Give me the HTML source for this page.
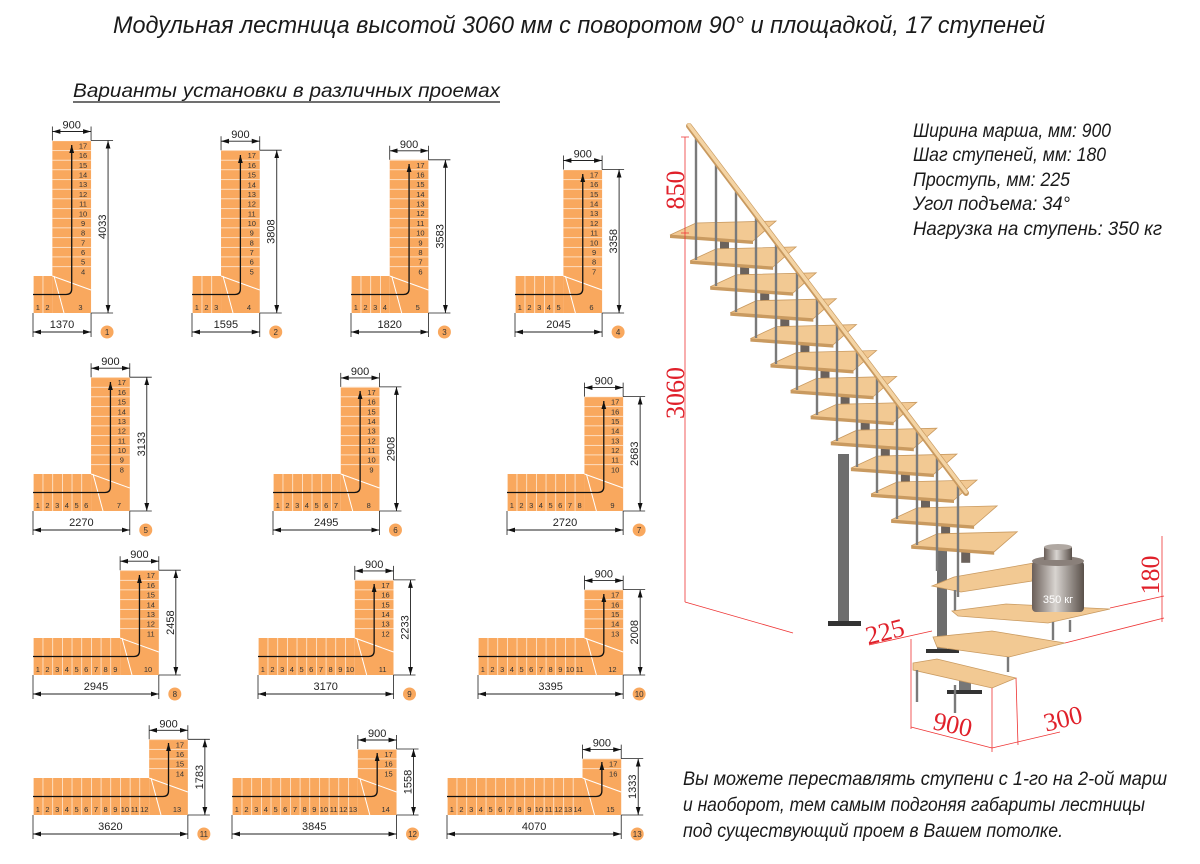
<!DOCTYPE html>
<html><head><meta charset="utf-8"><style>
html,body{margin:0;padding:0;background:#fff}
svg{display:block}
.o{fill:#f9a85e}
.w{stroke:#fff;stroke-width:1;fill:none}
.ar{stroke:#111;stroke-width:1.3;fill:none}
.d{stroke:#222;stroke-width:0.8;fill:none}
.dl{stroke:#222;stroke-width:0.9}
.n{font-family:"Liberation Sans",sans-serif;font-size:7.5px;fill:#333;text-anchor:middle}
.t{font-family:"Liberation Sans",sans-serif;font-size:11px;fill:#222;text-anchor:middle}
.b{fill:#f9a85e}
.bt{font-family:"Liberation Sans",sans-serif;font-size:8px;fill:#333;text-anchor:middle}
.tr{fill:#f2c993;stroke:#c99a60;stroke-width:0.8}
.te{fill:#c99a60}
.bl{stroke:#7a7a7a;stroke-width:2.4}
.r{stroke:#e33;stroke-width:0.8;fill:none}
.rt{font-family:"Liberation Serif",serif;fill:#e0202a;font-size:26px}
.it{font-family:"Liberation Sans",sans-serif;font-style:italic;fill:#1a1a1a}
</style></head><body>
<svg width="1200" height="864" viewBox="0 0 1200 864" xmlns="http://www.w3.org/2000/svg">
<defs>
<marker id="m" viewBox="0 0 10 6" refX="10" refY="3" markerWidth="8" markerHeight="5" markerUnits="userSpaceOnUse" orient="auto-start-reverse"><path d="M0 0L10 3L0 6z" fill="#111"/></marker>
<pattern id="pv" patternUnits="userSpaceOnUse" x="0" y="0" width="9.68" height="50"><line x1="0" y1="0" x2="0" y2="50" stroke="#fff" stroke-width="1.2"/></pattern>
<pattern id="ph" patternUnits="userSpaceOnUse" x="0" y="-37" width="50" height="9.68"><line x1="0" y1="0" x2="50" y2="0" stroke="#fff" stroke-width="1.2"/></pattern>
<linearGradient id="cyl" x1="0" x2="1" y1="0" y2="0"><stop offset="0" stop-color="#6a5e58"/><stop offset="0.45" stop-color="#d8d4d0"/><stop offset="1" stop-color="#5a504a"/></linearGradient>
</defs>

<text class="it" x="113" y="33" font-size="24" textLength="932" lengthAdjust="spacingAndGlyphs">Модульная лестница высотой 3060 мм с поворотом 90° и площадкой, 17 ступеней</text>
<text class="it" x="73" y="97" font-size="19" textLength="427" lengthAdjust="spacingAndGlyphs">Варианты установки в различных проемах</text>
<line x1="73" y1="102" x2="500" y2="102" stroke="#1a1a1a" stroke-width="1.2"/>

<!-- diagram 1 -->
<g transform="translate(33,313)">
<rect x="0" y="-37" width="58.06" height="37" class="o"/><rect x="19.36" y="-172.5" width="38.7" height="135.5" class="o"/>
<rect x="0" y="-37" width="19.36" height="37" fill="url(#pv)"/><rect x="19.36" y="-172.5" width="38.7" height="135.5" fill="url(#ph)"/>
<path class="w" d="M19.36 -37 l38.7 14 M21 -37 l10 37"/>
<path class="ar" marker-start="url(#m)" d="M38.71 -168 V-24 Q38.71 -18.5 33 -18.5 H0"/>
<text class="n" y="-3"><tspan x="4.84">1</tspan><tspan x="14.52">2</tspan><tspan x="47.4">3</tspan></text>
<text class="n" x="50.06" y="-164.5"><tspan>17</tspan><tspan x="50.06" dy="9.68">16</tspan><tspan x="50.06" dy="9.68">15</tspan><tspan x="50.06" dy="9.68">14</tspan><tspan x="50.06" dy="9.68">13</tspan><tspan x="50.06" dy="9.68">12</tspan><tspan x="50.06" dy="9.68">11</tspan><tspan x="50.06" dy="9.68">10</tspan><tspan x="50.06" dy="9.68">9</tspan><tspan x="50.06" dy="9.68">8</tspan><tspan x="50.06" dy="9.68">7</tspan><tspan x="50.06" dy="9.68">6</tspan><tspan x="50.06" dy="9.68">5</tspan><tspan x="50.06" dy="9.68">4</tspan></text>
<path class="d" d="M19.36 -172.5 v-14 M58.06 -172.5 v-14 M58.06 -172.5 h22 M58.06 0 h22 M0 0 v24 M58.06 0 v24"/>
<line class="dl" marker-start="url(#m)" marker-end="url(#m)" x1="19.36" y1="-181.5" x2="58.06" y2="-181.5"/>
<line class="dl" marker-start="url(#m)" marker-end="url(#m)" x1="75.06" y1="-172.5" x2="75.06" y2="0"/>
<line class="dl" marker-start="url(#m)" marker-end="url(#m)" x1="0" y1="19" x2="58.06" y2="19"/>
<text class="t" x="38.71" y="-184.5">900</text><text class="t" x="29" y="15">1370</text>
<text class="t" transform="translate(73.06,-86.25) rotate(-90)">4033</text>
<circle class="b" cx="74.06" cy="19" r="6.5"/><text class="bt" x="74.06" y="22">1</text>
</g>

<!-- diagram 2 -->
<g transform="translate(192,313)">
<rect x="0" y="-37" width="67.74" height="37" class="o"/><rect x="29.04" y="-162.8" width="38.7" height="125.8" class="o"/>
<rect x="0" y="-37" width="29.04" height="37" fill="url(#pv)"/><rect x="29.04" y="-162.8" width="38.7" height="125.8" fill="url(#ph)"/>
<path class="w" d="M29.04 -37 l38.7 14 M31 -37 l10 37"/>
<path class="ar" marker-start="url(#m)" d="M48.39 -158 V-24 Q48.39 -18.5 43 -18.5 H0"/>
<text class="n" y="-3"><tspan x="4.84">1</tspan><tspan x="14.52">2</tspan><tspan x="24.2">3</tspan><tspan x="57">4</tspan></text>
<text class="n" x="59.74" y="-154.8"><tspan>17</tspan><tspan x="59.74" dy="9.68">16</tspan><tspan x="59.74" dy="9.68">15</tspan><tspan x="59.74" dy="9.68">14</tspan><tspan x="59.74" dy="9.68">13</tspan><tspan x="59.74" dy="9.68">12</tspan><tspan x="59.74" dy="9.68">11</tspan><tspan x="59.74" dy="9.68">10</tspan><tspan x="59.74" dy="9.68">9</tspan><tspan x="59.74" dy="9.68">8</tspan><tspan x="59.74" dy="9.68">7</tspan><tspan x="59.74" dy="9.68">6</tspan><tspan x="59.74" dy="9.68">5</tspan></text>
<path class="d" d="M29.04 -162.8 v-14 M67.74 -162.8 v-14 M67.74 -162.8 h22 M67.74 0 h22 M0 0 v24 M67.74 0 v24"/>
<line class="dl" marker-start="url(#m)" marker-end="url(#m)" x1="29.04" y1="-171.8" x2="67.74" y2="-171.8"/>
<line class="dl" marker-start="url(#m)" marker-end="url(#m)" x1="84.74" y1="-162.8" x2="84.74" y2="0"/>
<line class="dl" marker-start="url(#m)" marker-end="url(#m)" x1="0" y1="19" x2="67.74" y2="19"/>
<text class="t" x="48.39" y="-174.8">900</text><text class="t" x="33.9" y="15">1595</text>
<text class="t" transform="translate(82.74,-81.4) rotate(-90)">3808</text>
<circle class="b" cx="83.74" cy="19" r="6.5"/><text class="bt" x="83.74" y="22">2</text>
</g>

<!-- diagram 3 -->
<g transform="translate(351,313)">
<rect x="0" y="-37" width="77.42" height="37" class="o"/><rect x="38.72" y="-153.2" width="38.7" height="116.2" class="o"/>
<rect x="0" y="-37" width="38.72" height="37" fill="url(#pv)"/><rect x="38.72" y="-153.2" width="38.7" height="116.2" fill="url(#ph)"/>
<path class="w" d="M38.72 -37 l38.7 14 M40.7 -37 l10 37"/>
<path class="ar" marker-start="url(#m)" d="M58.07 -149 V-24 Q58.07 -18.5 52.5 -18.5 H0"/>
<text class="n" y="-3"><tspan x="4.84">1</tspan><tspan x="14.52">2</tspan><tspan x="24.2">3</tspan><tspan x="33.88">4</tspan><tspan x="66.7">5</tspan></text>
<text class="n" x="69.42" y="-145.2"><tspan>17</tspan><tspan x="69.42" dy="9.68">16</tspan><tspan x="69.42" dy="9.68">15</tspan><tspan x="69.42" dy="9.68">14</tspan><tspan x="69.42" dy="9.68">13</tspan><tspan x="69.42" dy="9.68">12</tspan><tspan x="69.42" dy="9.68">11</tspan><tspan x="69.42" dy="9.68">10</tspan><tspan x="69.42" dy="9.68">9</tspan><tspan x="69.42" dy="9.68">8</tspan><tspan x="69.42" dy="9.68">7</tspan><tspan x="69.42" dy="9.68">6</tspan></text>
<path class="d" d="M38.72 -153.2 v-14 M77.42 -153.2 v-14 M77.42 -153.2 h22 M77.42 0 h22 M0 0 v24 M77.42 0 v24"/>
<line class="dl" marker-start="url(#m)" marker-end="url(#m)" x1="38.72" y1="-162.2" x2="77.42" y2="-162.2"/>
<line class="dl" marker-start="url(#m)" marker-end="url(#m)" x1="94.42" y1="-153.2" x2="94.42" y2="0"/>
<line class="dl" marker-start="url(#m)" marker-end="url(#m)" x1="0" y1="19" x2="77.42" y2="19"/>
<text class="t" x="58.07" y="-165.2">900</text><text class="t" x="38.7" y="15">1820</text>
<text class="t" transform="translate(92.42,-76.6) rotate(-90)">3583</text>
<circle class="b" cx="93.42" cy="19" r="6.5"/><text class="bt" x="93.42" y="22">3</text>
</g>

<!-- diagram 4 -->
<g transform="translate(515,313)">
<rect x="0" y="-37" width="87.1" height="37" class="o"/><rect x="48.4" y="-143.5" width="38.7" height="106.5" class="o"/>
<rect x="0" y="-37" width="48.4" height="37" fill="url(#pv)"/><rect x="48.4" y="-143.5" width="38.7" height="106.5" fill="url(#ph)"/>
<path class="w" d="M48.4 -37 l38.7 14 M50.4 -37 l10 37"/>
<path class="ar" marker-start="url(#m)" d="M67.75 -139 V-24 Q67.75 -18.5 62 -18.5 H0"/>
<text class="n" y="-3"><tspan x="4.84">1</tspan><tspan x="14.52">2</tspan><tspan x="24.2">3</tspan><tspan x="33.88">4</tspan><tspan x="43.56">5</tspan><tspan x="76.4">6</tspan></text>
<text class="n" x="79.1" y="-135.5"><tspan>17</tspan><tspan x="79.1" dy="9.68">16</tspan><tspan x="79.1" dy="9.68">15</tspan><tspan x="79.1" dy="9.68">14</tspan><tspan x="79.1" dy="9.68">13</tspan><tspan x="79.1" dy="9.68">12</tspan><tspan x="79.1" dy="9.68">11</tspan><tspan x="79.1" dy="9.68">10</tspan><tspan x="79.1" dy="9.68">9</tspan><tspan x="79.1" dy="9.68">8</tspan><tspan x="79.1" dy="9.68">7</tspan></text>
<path class="d" d="M48.4 -143.5 v-14 M87.1 -143.5 v-14 M87.1 -143.5 h22 M87.1 0 h22 M0 0 v24 M87.1 0 v24"/>
<line class="dl" marker-start="url(#m)" marker-end="url(#m)" x1="48.4" y1="-152.5" x2="87.1" y2="-152.5"/>
<line class="dl" marker-start="url(#m)" marker-end="url(#m)" x1="104.1" y1="-143.5" x2="104.1" y2="0"/>
<line class="dl" marker-start="url(#m)" marker-end="url(#m)" x1="0" y1="19" x2="87.1" y2="19"/>
<text class="t" x="67.75" y="-155.5">900</text><text class="t" x="43.5" y="15">2045</text>
<text class="t" transform="translate(102.1,-71.75) rotate(-90)">3358</text>
<circle class="b" cx="103.1" cy="19" r="6.5"/><text class="bt" x="103.1" y="22">4</text>
</g>

<!-- diagram 5 -->
<g transform="translate(33,511)">
<rect x="0" y="-37" width="96.78" height="37" class="o"/><rect x="58.08" y="-133.8" width="38.7" height="96.8" class="o"/>
<rect x="0" y="-37" width="58.08" height="37" fill="url(#pv)"/><rect x="58.08" y="-133.8" width="38.7" height="96.8" fill="url(#ph)"/>
<path class="w" d="M58.08 -37 l38.7 14 M60 -37 l10 37"/>
<path class="ar" marker-start="url(#m)" d="M77.43 -129 V-24 Q77.43 -18.5 72 -18.5 H0"/>
<text class="n" y="-3"><tspan x="4.84">1</tspan><tspan x="14.52">2</tspan><tspan x="24.2">3</tspan><tspan x="33.88">4</tspan><tspan x="43.56">5</tspan><tspan x="53.24">6</tspan><tspan x="86">7</tspan></text>
<text class="n" x="88.78" y="-125.8"><tspan>17</tspan><tspan x="88.78" dy="9.68">16</tspan><tspan x="88.78" dy="9.68">15</tspan><tspan x="88.78" dy="9.68">14</tspan><tspan x="88.78" dy="9.68">13</tspan><tspan x="88.78" dy="9.68">12</tspan><tspan x="88.78" dy="9.68">11</tspan><tspan x="88.78" dy="9.68">10</tspan><tspan x="88.78" dy="9.68">9</tspan><tspan x="88.78" dy="9.68">8</tspan></text>
<path class="d" d="M58.08 -133.8 v-14 M96.78 -133.8 v-14 M96.78 -133.8 h22 M96.78 0 h22 M0 0 v24 M96.78 0 v24"/>
<line class="dl" marker-start="url(#m)" marker-end="url(#m)" x1="58.08" y1="-142.8" x2="96.78" y2="-142.8"/>
<line class="dl" marker-start="url(#m)" marker-end="url(#m)" x1="113.78" y1="-133.8" x2="113.78" y2="0"/>
<line class="dl" marker-start="url(#m)" marker-end="url(#m)" x1="0" y1="19" x2="96.78" y2="19"/>
<text class="t" x="77.43" y="-145.8">900</text><text class="t" x="48.4" y="15">2270</text>
<text class="t" transform="translate(111.78,-66.9) rotate(-90)">3133</text>
<circle class="b" cx="112.78" cy="19" r="6.5"/><text class="bt" x="112.78" y="22">5</text>
</g>

<!-- diagram 6 -->
<g transform="translate(273,511)">
<rect x="0" y="-37" width="106.46" height="37" class="o"/><rect x="67.76" y="-124.1" width="38.7" height="87.1" class="o"/>
<rect x="0" y="-37" width="67.76" height="37" fill="url(#pv)"/><rect x="67.76" y="-124.1" width="38.7" height="87.1" fill="url(#ph)"/>
<path class="w" d="M67.76 -37 l38.7 14 M69.7 -37 l10 37"/>
<path class="ar" marker-start="url(#m)" d="M87.11 -120 V-24 Q87.11 -18.5 81.5 -18.5 H0"/>
<text class="n" y="-3"><tspan x="4.84">1</tspan><tspan x="14.52">2</tspan><tspan x="24.2">3</tspan><tspan x="33.88">4</tspan><tspan x="43.56">5</tspan><tspan x="53.24">6</tspan><tspan x="62.92">7</tspan><tspan x="95.7">8</tspan></text>
<text class="n" x="98.46" y="-116.1"><tspan>17</tspan><tspan x="98.46" dy="9.68">16</tspan><tspan x="98.46" dy="9.68">15</tspan><tspan x="98.46" dy="9.68">14</tspan><tspan x="98.46" dy="9.68">13</tspan><tspan x="98.46" dy="9.68">12</tspan><tspan x="98.46" dy="9.68">11</tspan><tspan x="98.46" dy="9.68">10</tspan><tspan x="98.46" dy="9.68">9</tspan></text>
<path class="d" d="M67.76 -124.1 v-14 M106.46 -124.1 v-14 M106.46 -124.1 h22 M106.46 0 h22 M0 0 v24 M106.46 0 v24"/>
<line class="dl" marker-start="url(#m)" marker-end="url(#m)" x1="67.76" y1="-133.1" x2="106.46" y2="-133.1"/>
<line class="dl" marker-start="url(#m)" marker-end="url(#m)" x1="123.46" y1="-124.1" x2="123.46" y2="0"/>
<line class="dl" marker-start="url(#m)" marker-end="url(#m)" x1="0" y1="19" x2="106.46" y2="19"/>
<text class="t" x="87.11" y="-136.1">900</text><text class="t" x="53.2" y="15">2495</text>
<text class="t" transform="translate(121.46,-62) rotate(-90)">2908</text>
<circle class="b" cx="122.46" cy="19" r="6.5"/><text class="bt" x="122.46" y="22">6</text>
</g>

<!-- diagram 7 -->
<g transform="translate(507,511)">
<rect x="0" y="-37" width="116.14" height="37" class="o"/><rect x="77.44" y="-114.4" width="38.7" height="77.4" class="o"/>
<rect x="0" y="-37" width="77.44" height="37" fill="url(#pv)"/><rect x="77.44" y="-114.4" width="38.7" height="77.4" fill="url(#ph)"/>
<path class="w" d="M77.44 -37 l38.7 14 M79.4 -37 l10 37"/>
<path class="ar" marker-start="url(#m)" d="M96.79 -110 V-24 Q96.79 -18.5 91 -18.5 H0"/>
<text class="n" y="-3"><tspan x="4.84">1</tspan><tspan x="14.52">2</tspan><tspan x="24.2">3</tspan><tspan x="33.88">4</tspan><tspan x="43.56">5</tspan><tspan x="53.24">6</tspan><tspan x="62.92">7</tspan><tspan x="72.6">8</tspan><tspan x="105.4">9</tspan></text>
<text class="n" x="108.14" y="-106.4"><tspan>17</tspan><tspan x="108.14" dy="9.68">16</tspan><tspan x="108.14" dy="9.68">15</tspan><tspan x="108.14" dy="9.68">14</tspan><tspan x="108.14" dy="9.68">13</tspan><tspan x="108.14" dy="9.68">12</tspan><tspan x="108.14" dy="9.68">11</tspan><tspan x="108.14" dy="9.68">10</tspan></text>
<path class="d" d="M77.44 -114.4 v-14 M116.14 -114.4 v-14 M116.14 -114.4 h22 M116.14 0 h22 M0 0 v24 M116.14 0 v24"/>
<line class="dl" marker-start="url(#m)" marker-end="url(#m)" x1="77.44" y1="-123.4" x2="116.14" y2="-123.4"/>
<line class="dl" marker-start="url(#m)" marker-end="url(#m)" x1="133.14" y1="-114.4" x2="133.14" y2="0"/>
<line class="dl" marker-start="url(#m)" marker-end="url(#m)" x1="0" y1="19" x2="116.14" y2="19"/>
<text class="t" x="96.79" y="-126.4">900</text><text class="t" x="58" y="15">2720</text>
<text class="t" transform="translate(131.14,-57.2) rotate(-90)">2683</text>
<circle class="b" cx="132.14" cy="19" r="6.5"/><text class="bt" x="132.14" y="22">7</text>
</g>

<!-- diagram 8 -->
<g transform="translate(33,675)">
<rect x="0" y="-37" width="125.82" height="37" class="o"/><rect x="87.12" y="-104.8" width="38.7" height="67.8" class="o"/>
<rect x="0" y="-37" width="87.12" height="37" fill="url(#pv)"/><rect x="87.12" y="-104.8" width="38.7" height="67.8" fill="url(#ph)"/>
<path class="w" d="M87.12 -37 l38.7 14 M89 -37 l10 37"/>
<path class="ar" marker-start="url(#m)" d="M106.47 -100 V-24 Q106.47 -18.5 101 -18.5 H0"/>
<text class="n" y="-3"><tspan x="4.84">1</tspan><tspan x="14.52">2</tspan><tspan x="24.2">3</tspan><tspan x="33.88">4</tspan><tspan x="43.56">5</tspan><tspan x="53.24">6</tspan><tspan x="62.92">7</tspan><tspan x="72.6">8</tspan><tspan x="82.28">9</tspan><tspan x="115">10</tspan></text>
<text class="n" x="117.82" y="-96.8"><tspan>17</tspan><tspan x="117.82" dy="9.68">16</tspan><tspan x="117.82" dy="9.68">15</tspan><tspan x="117.82" dy="9.68">14</tspan><tspan x="117.82" dy="9.68">13</tspan><tspan x="117.82" dy="9.68">12</tspan><tspan x="117.82" dy="9.68">11</tspan></text>
<path class="d" d="M87.12 -104.8 v-14 M125.82 -104.8 v-14 M125.82 -104.8 h22 M125.82 0 h22 M0 0 v24 M125.82 0 v24"/>
<line class="dl" marker-start="url(#m)" marker-end="url(#m)" x1="87.12" y1="-113.8" x2="125.82" y2="-113.8"/>
<line class="dl" marker-start="url(#m)" marker-end="url(#m)" x1="142.82" y1="-104.8" x2="142.82" y2="0"/>
<line class="dl" marker-start="url(#m)" marker-end="url(#m)" x1="0" y1="19" x2="125.82" y2="19"/>
<text class="t" x="106.47" y="-116.8">900</text><text class="t" x="63" y="15">2945</text>
<text class="t" transform="translate(140.82,-52.4) rotate(-90)">2458</text>
<circle class="b" cx="141.82" cy="19" r="6.5"/><text class="bt" x="141.82" y="22">8</text>
</g>

<!-- diagram 9 -->
<g transform="translate(258,675)">
<rect x="0" y="-37" width="135.5" height="37" class="o"/><rect x="96.8" y="-95.1" width="38.7" height="58.1" class="o"/>
<rect x="0" y="-37" width="96.8" height="37" fill="url(#pv)"/><rect x="96.8" y="-95.1" width="38.7" height="58.1" fill="url(#ph)"/>
<path class="w" d="M96.8 -37 l38.7 14 M98.7 -37 l10 37"/>
<path class="ar" marker-start="url(#m)" d="M116.15 -91 V-24 Q116.15 -18.5 110.5 -18.5 H0"/>
<text class="n" y="-3"><tspan x="4.84">1</tspan><tspan x="14.52">2</tspan><tspan x="24.2">3</tspan><tspan x="33.88">4</tspan><tspan x="43.56">5</tspan><tspan x="53.24">6</tspan><tspan x="62.92">7</tspan><tspan x="72.6">8</tspan><tspan x="82.28">9</tspan><tspan x="91.96">10</tspan><tspan x="124.7">11</tspan></text>
<text class="n" x="127.5" y="-87.1"><tspan>17</tspan><tspan x="127.5" dy="9.68">16</tspan><tspan x="127.5" dy="9.68">15</tspan><tspan x="127.5" dy="9.68">14</tspan><tspan x="127.5" dy="9.68">13</tspan><tspan x="127.5" dy="9.68">12</tspan></text>
<path class="d" d="M96.8 -95.1 v-14 M135.5 -95.1 v-14 M135.5 -95.1 h22 M135.5 0 h22 M0 0 v24 M135.5 0 v24"/>
<line class="dl" marker-start="url(#m)" marker-end="url(#m)" x1="96.8" y1="-104.1" x2="135.5" y2="-104.1"/>
<line class="dl" marker-start="url(#m)" marker-end="url(#m)" x1="152.5" y1="-95.1" x2="152.5" y2="0"/>
<line class="dl" marker-start="url(#m)" marker-end="url(#m)" x1="0" y1="19" x2="135.5" y2="19"/>
<text class="t" x="116.15" y="-107.1">900</text><text class="t" x="67.7" y="15">3170</text>
<text class="t" transform="translate(150.5,-47.5) rotate(-90)">2233</text>
<circle class="b" cx="151.5" cy="19" r="6.5"/><text class="bt" x="151.5" y="22">9</text>
</g>

<!-- diagram 10 -->
<g transform="translate(478,675)">
<rect x="0" y="-37" width="145.18" height="37" class="o"/><rect x="106.48" y="-85.4" width="38.7" height="48.4" class="o"/>
<rect x="0" y="-37" width="106.48" height="37" fill="url(#pv)"/><rect x="106.48" y="-85.4" width="38.7" height="48.4" fill="url(#ph)"/>
<path class="w" d="M106.48 -37 l38.7 14 M108.4 -37 l10 37"/>
<path class="ar" marker-start="url(#m)" d="M125.83 -81 V-24 Q125.83 -18.5 120 -18.5 H0"/>
<text class="n" y="-3"><tspan x="4.84">1</tspan><tspan x="14.52">2</tspan><tspan x="24.2">3</tspan><tspan x="33.88">4</tspan><tspan x="43.56">5</tspan><tspan x="53.24">6</tspan><tspan x="62.92">7</tspan><tspan x="72.6">8</tspan><tspan x="82.28">9</tspan><tspan x="91.96">10</tspan><tspan x="101.64">11</tspan><tspan x="134.4">12</tspan></text>
<text class="n" x="137.18" y="-77.4"><tspan>17</tspan><tspan x="137.18" dy="9.68">16</tspan><tspan x="137.18" dy="9.68">15</tspan><tspan x="137.18" dy="9.68">14</tspan><tspan x="137.18" dy="9.68">13</tspan></text>
<path class="d" d="M106.48 -85.4 v-14 M145.18 -85.4 v-14 M145.18 -85.4 h22 M145.18 0 h22 M0 0 v24 M145.18 0 v24"/>
<line class="dl" marker-start="url(#m)" marker-end="url(#m)" x1="106.48" y1="-94.4" x2="145.18" y2="-94.4"/>
<line class="dl" marker-start="url(#m)" marker-end="url(#m)" x1="162.18" y1="-85.4" x2="162.18" y2="0"/>
<line class="dl" marker-start="url(#m)" marker-end="url(#m)" x1="0" y1="19" x2="145.18" y2="19"/>
<text class="t" x="125.83" y="-97.4">900</text><text class="t" x="72.6" y="15">3395</text>
<text class="t" transform="translate(160.18,-42.7) rotate(-90)">2008</text>
<circle class="b" cx="161.18" cy="19" r="6.5"/><text class="bt" x="161.18" y="22">10</text>
</g>

<!-- diagram 11 -->
<g transform="translate(33,815)">
<rect x="0" y="-37" width="154.86" height="37" class="o"/><rect x="116.16" y="-75.7" width="38.7" height="38.7" class="o"/>
<rect x="0" y="-37" width="116.16" height="37" fill="url(#pv)"/><rect x="116.16" y="-75.7" width="38.7" height="38.7" fill="url(#ph)"/>
<path class="w" d="M116.16 -37 l38.7 14 M118 -37 l10 37"/>
<path class="ar" marker-start="url(#m)" d="M135.51 -72 V-24 Q135.51 -18.5 130 -18.5 H0"/>
<text class="n" y="-3"><tspan x="4.84">1</tspan><tspan x="14.52">2</tspan><tspan x="24.2">3</tspan><tspan x="33.88">4</tspan><tspan x="43.56">5</tspan><tspan x="53.24">6</tspan><tspan x="62.92">7</tspan><tspan x="72.6">8</tspan><tspan x="82.28">9</tspan><tspan x="91.96">10</tspan><tspan x="101.64">11</tspan><tspan x="111.32">12</tspan><tspan x="144">13</tspan></text>
<text class="n" x="146.86" y="-67.7"><tspan>17</tspan><tspan x="146.86" dy="9.68">16</tspan><tspan x="146.86" dy="9.68">15</tspan><tspan x="146.86" dy="9.68">14</tspan></text>
<path class="d" d="M116.16 -75.7 v-14 M154.86 -75.7 v-14 M154.86 -75.7 h22 M154.86 0 h22 M0 0 v24 M154.86 0 v24"/>
<line class="dl" marker-start="url(#m)" marker-end="url(#m)" x1="116.16" y1="-84.7" x2="154.86" y2="-84.7"/>
<line class="dl" marker-start="url(#m)" marker-end="url(#m)" x1="171.86" y1="-75.7" x2="171.86" y2="0"/>
<line class="dl" marker-start="url(#m)" marker-end="url(#m)" x1="0" y1="19" x2="154.86" y2="19"/>
<text class="t" x="135.51" y="-87.7">900</text><text class="t" x="77.4" y="15">3620</text>
<text class="t" transform="translate(169.86,-37.85) rotate(-90)">1783</text>
<circle class="b" cx="170.86" cy="19" r="6.5"/><text class="bt" x="170.86" y="22">11</text>
</g>

<!-- diagram 12 -->
<g transform="translate(232,815)">
<rect x="0" y="-37" width="164.54" height="37" class="o"/><rect x="125.84" y="-66" width="38.7" height="29" class="o"/>
<rect x="0" y="-37" width="125.84" height="37" fill="url(#pv)"/><rect x="125.84" y="-66" width="38.7" height="29" fill="url(#ph)"/>
<path class="w" d="M125.84 -37 l38.7 14 M127.8 -37 l10 37"/>
<path class="ar" marker-start="url(#m)" d="M145.19 -62 V-24 Q145.19 -18.5 139.5 -18.5 H0"/>
<text class="n" y="-3"><tspan x="4.84">1</tspan><tspan x="14.52">2</tspan><tspan x="24.2">3</tspan><tspan x="33.88">4</tspan><tspan x="43.56">5</tspan><tspan x="53.24">6</tspan><tspan x="62.92">7</tspan><tspan x="72.6">8</tspan><tspan x="82.28">9</tspan><tspan x="91.96">10</tspan><tspan x="101.64">11</tspan><tspan x="111.32">12</tspan><tspan x="121">13</tspan><tspan x="153.7">14</tspan></text>
<text class="n" x="156.54" y="-58"><tspan>17</tspan><tspan x="156.54" dy="9.68">16</tspan><tspan x="156.54" dy="9.68">15</tspan></text>
<path class="d" d="M125.84 -66 v-14 M164.54 -66 v-14 M164.54 -66 h22 M164.54 0 h22 M0 0 v24 M164.54 0 v24"/>
<line class="dl" marker-start="url(#m)" marker-end="url(#m)" x1="125.84" y1="-75" x2="164.54" y2="-75"/>
<line class="dl" marker-start="url(#m)" marker-end="url(#m)" x1="181.54" y1="-66" x2="181.54" y2="0"/>
<line class="dl" marker-start="url(#m)" marker-end="url(#m)" x1="0" y1="19" x2="164.54" y2="19"/>
<text class="t" x="145.19" y="-78">900</text><text class="t" x="82.3" y="15">3845</text>
<text class="t" transform="translate(179.54,-33) rotate(-90)">1558</text>
<circle class="b" cx="180.54" cy="19" r="6.5"/><text class="bt" x="180.54" y="22">12</text>
</g>

<!-- diagram 13 -->
<g transform="translate(447,815)">
<rect x="0" y="-37" width="174.22" height="37" class="o"/><rect x="135.52" y="-56.4" width="38.7" height="19.4" class="o"/>
<rect x="0" y="-37" width="135.52" height="37" fill="url(#pv)"/><rect x="135.52" y="-56.4" width="38.7" height="19.4" fill="url(#ph)"/>
<path class="w" d="M135.52 -37 l38.7 14 M137.5 -37 l10 37"/>
<path class="ar" marker-start="url(#m)" d="M154.87 -53 V-24 Q154.87 -18.5 149 -18.5 H0"/>
<text class="n" y="-3"><tspan x="4.84">1</tspan><tspan x="14.52">2</tspan><tspan x="24.2">3</tspan><tspan x="33.88">4</tspan><tspan x="43.56">5</tspan><tspan x="53.24">6</tspan><tspan x="62.92">7</tspan><tspan x="72.6">8</tspan><tspan x="82.28">9</tspan><tspan x="91.96">10</tspan><tspan x="101.64">11</tspan><tspan x="111.32">12</tspan><tspan x="121">13</tspan><tspan x="130.68">14</tspan><tspan x="163.4">15</tspan></text>
<text class="n" x="166.22" y="-48.4"><tspan>17</tspan><tspan x="166.22" dy="9.68">16</tspan></text>
<path class="d" d="M135.52 -56.4 v-14 M174.22 -56.4 v-14 M174.22 -56.4 h22 M174.22 0 h22 M0 0 v24 M174.22 0 v24"/>
<line class="dl" marker-start="url(#m)" marker-end="url(#m)" x1="135.52" y1="-65.4" x2="174.22" y2="-65.4"/>
<line class="dl" marker-start="url(#m)" marker-end="url(#m)" x1="191.22" y1="-56.4" x2="191.22" y2="0"/>
<line class="dl" marker-start="url(#m)" marker-end="url(#m)" x1="0" y1="19" x2="174.22" y2="19"/>
<text class="t" x="154.87" y="-68.4">900</text><text class="t" x="87.1" y="15">4070</text>
<text class="t" transform="translate(189.22,-28.2) rotate(-90)">1333</text>
<circle class="b" cx="190.22" cy="19" r="6.5"/><text class="bt" x="190.22" y="22">13</text>
</g>

<!-- 3D staircase -->
<g>
<!-- columns -->
<rect x="838" y="454" width="11" height="168" fill="#6d6d6d"/>
<rect x="828" y="621" width="33" height="5" fill="#333"/>
<rect x="937" y="545" width="10" height="106" fill="#6d6d6d"/>
<rect x="926" y="649" width="33" height="4" fill="#333"/>
<rect x="959" y="672" width="12" height="20" fill="#777"/>
<rect x="947" y="690" width="35" height="4" fill="#333"/>
<!-- treads straight -->
<g id="tr0" transform="translate(670,235)"><rect x="50" y="3" width="9" height="14" fill="#6b625c"/><polygon class="te" points="0,0 83,6 83,9 0,3"/><polygon class="tr" points="0,0 26,-12 106,-14 83,6"/></g>
<use href="#tr0" x="20.1" y="25.9"/><use href="#tr0" x="40.2" y="51.8"/><use href="#tr0" x="60.3" y="77.7"/>
<use href="#tr0" x="80.4" y="103.6"/><use href="#tr0" x="100.5" y="129.5"/><use href="#tr0" x="120.6" y="155.4"/>
<use href="#tr0" x="140.7" y="181.3"/><use href="#tr0" x="160.8" y="207.2"/><use href="#tr0" x="180.9" y="233.1"/>
<use href="#tr0" x="201" y="259"/><use href="#tr0" x="221.1" y="284.9"/><use href="#tr0" x="241.2" y="310.8"/>
<!-- winders -->
<polygon class="tr" points="932,586 954,577 1034,563 1032,581 961,592"/>
<line class="bl" x1="955" y1="590" x2="955" y2="612"/>
<polygon class="tr" points="952,611 1006,604 1110,609 1048,623 958,616"/>
<line class="bl" x1="1053" y1="622" x2="1053" y2="640"/><line class="bl" x1="1070" y1="620" x2="1070" y2="632"/>
<polygon class="tr" points="933,637 992,631 1065,643 1009,657 937,647"/>
<line class="bl" x1="1008" y1="657" x2="1008" y2="672"/>
<polygon class="tr" points="913,663 937,659 1016,678 992,688 913,670"/>
<line class="bl" x1="917" y1="670" x2="917" y2="702"/><line class="bl" x1="955" y1="685" x2="955" y2="713"/>
<!-- weight -->
<rect x="1032" y="561" width="52" height="51" rx="4" fill="url(#cyl)"/>
<ellipse cx="1058" cy="561" rx="26" ry="5" fill="#8a807a"/>
<rect x="1044" y="547" width="28" height="13" fill="url(#cyl)"/>
<ellipse cx="1058" cy="547" rx="14" ry="3" fill="#b0a8a2"/>
<text x="1058" y="603" font-family="Liberation Sans,sans-serif" font-size="11" fill="#fff" text-anchor="middle">350 кг</text>
<!-- balusters -->
<g class="bl">
<line x1="696" y1="135" x2="696" y2="260"/><line x1="716" y1="162" x2="716" y2="286"/><line x1="736" y1="188" x2="736" y2="312"/>
<line x1="756" y1="215" x2="756" y2="338"/><line x1="776" y1="241" x2="776" y2="364"/><line x1="797" y1="268" x2="797" y2="390"/>
<line x1="817" y1="294" x2="817" y2="415"/><line x1="837" y1="321" x2="837" y2="441"/><line x1="857" y1="347" x2="857" y2="467"/>
<line x1="877" y1="374" x2="877" y2="493"/><line x1="897" y1="400" x2="897" y2="519"/><line x1="917" y1="427" x2="917" y2="545"/>
<line x1="937" y1="453" x2="937" y2="571"/><line x1="958" y1="480" x2="958" y2="597"/>
</g>
<!-- handrail -->
<line x1="689" y1="126" x2="966" y2="493" stroke="#c99a60" stroke-width="6" stroke-linecap="round"/>
<line x1="689" y1="125" x2="966" y2="492" stroke="#f4d4a4" stroke-width="3.5" stroke-linecap="round"/>
</g>

<!-- red dimensions -->
<g class="r">
<line x1="685" y1="137" x2="685" y2="602"/>
<path d="M681 137h8 M681 233h8"/>
<line x1="685" y1="602" x2="793" y2="633"/>
<line x1="869" y1="645" x2="932" y2="631"/>
<line x1="911" y1="639" x2="911" y2="729"/>
<line x1="911" y1="727" x2="992" y2="748"/>
<line x1="992" y1="688" x2="992" y2="752"/>
<line x1="992" y1="748" x2="1060" y2="732"/>
<line x1="1016" y1="678" x2="1018" y2="745"/>
<line x1="1110" y1="608" x2="1164" y2="596"/>
<line x1="1065" y1="643" x2="1164" y2="618"/>
<line x1="1162" y1="536" x2="1162" y2="622"/>
</g>
<text class="rt" transform="translate(684,190) rotate(-90)" text-anchor="middle">850</text>
<text class="rt" transform="translate(684,393) rotate(-90)" text-anchor="middle">3060</text>
<text class="rt" transform="translate(887,640) rotate(-14)" text-anchor="middle">225</text>
<text class="rt" transform="translate(951,733) rotate(12)" text-anchor="middle">900</text>
<text class="rt" transform="translate(1065,727) rotate(-14)" text-anchor="middle">300</text>
<text class="rt" transform="translate(1159,575) rotate(-90)" text-anchor="middle">180</text>

<!-- specs -->
<g class="it" font-size="19">
<text x="913" y="137" textLength="198" lengthAdjust="spacingAndGlyphs">Ширина марша, мм: 900</text>
<text x="913" y="161" textLength="193" lengthAdjust="spacingAndGlyphs">Шаг ступеней, мм: 180</text>
<text x="913" y="186" textLength="157" lengthAdjust="spacingAndGlyphs">Проступь, мм: 225</text>
<text x="913" y="210" textLength="157" lengthAdjust="spacingAndGlyphs">Угол подъема: 34°</text>
<text x="913" y="235" textLength="249" lengthAdjust="spacingAndGlyphs">Нагрузка на ступень: 350 кг</text>
</g>
<g class="it" font-size="19">
<text x="683" y="785" textLength="484" lengthAdjust="spacingAndGlyphs">Вы можете переставлять ступени с 1-го на 2-ой марш</text>
<text x="683" y="811" textLength="462" lengthAdjust="spacingAndGlyphs">и наоборот, тем самым подгоняя габариты лестницы</text>
<text x="683" y="837" textLength="380" lengthAdjust="spacingAndGlyphs">под существующий проем в Вашем потолке.</text>
</g>
</svg>
</body></html>
